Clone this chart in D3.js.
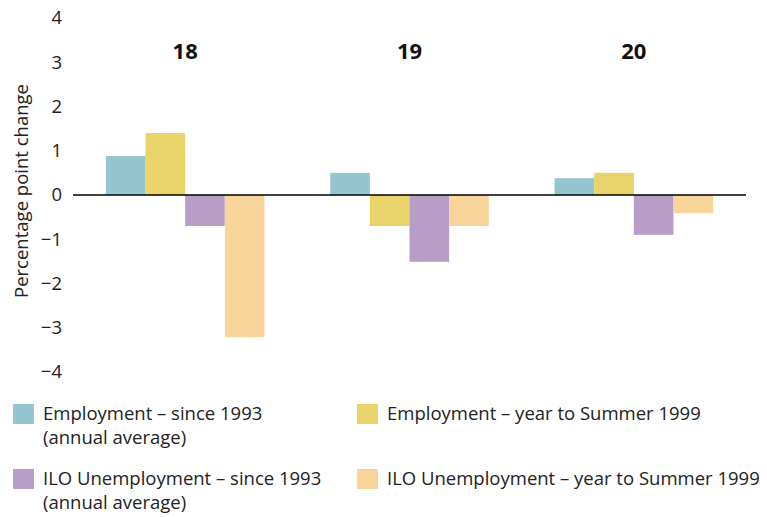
<!DOCTYPE html>
<html>
<head>
<meta charset="utf-8">
<script src="https://cdn.jsdelivr.net/npm/d3@7"></script>
<style>
  html, body { margin: 0; padding: 0; background: #fff; }
  svg { display: block; font-family: "Open Sans", "Noto Sans", sans-serif; }
</style>
</head>
<body>
<svg id="chart" width="767" height="517"></svg>
<script>
// Age groups along the x axis
const ages = ["18", "19", "20"];

// Series (percentage point change)
const seriesNames = [
  "Employment – since 1993 (annual average)",
  "Employment – year to Summer 1999",
  "ILO Unemployment – since 1993 (annual average)",
  "ILO Unemployment – year to Summer 1999"
];
const empSince1993   = [0.88, 0.50, 0.38];
const empYear1999    = [1.40, -0.70, 0.50];
const iloSince1993   = [-0.70, -1.51, -0.90];
const iloYear1999    = [-3.21, -0.70, -0.41];

const yTicks = [4, 3, 2, 1, 0, -1, -2, -3, -4];

const colors = ["#96c5d2", "#e8d46a", "#b89ec6", "#f8d59a"];
const seriesValues = [empSince1993, empYear1999, iloSince1993, iloYear1999];

const svg = d3.select("#chart");

const y = d3.scaleLinear().domain([-4, 4]).range([372, 18]);
const x0 = d3.scaleBand().domain(ages).range([73, 746]).padding(0);
const x1 = d3.scaleBand().domain(d3.range(seriesNames.length))
  .range([0, x0.bandwidth()]).paddingInner(0).paddingOuter(0.83);

// y tick labels
const yAxis = d3.axisLeft(y).tickValues(yTicks).tickSize(0).tickPadding(0)
  .tickFormat(d => d < 0 ? "\u2212" + Math.abs(d) : String(d));
const gy = svg.append("g").attr("transform", "translate(62,0)").call(yAxis);
gy.select(".domain").remove();
gy.selectAll("text").attr("font-size", 18.5).attr("fill", "#222")
  .attr("font-family", "\"Open Sans\", sans-serif");

// y axis title
svg.append("text")
  .attr("transform", "translate(28,191) rotate(-90)")
  .attr("text-anchor", "middle")
  .attr("font-size", 18.5)
  .attr("fill", "#222")
  .text("Percentage point change");

// bars
const groups = svg.append("g").selectAll("g").data(ages).join("g")
  .attr("transform", d => `translate(${x0(d)},0)`);

groups.selectAll("rect")
  .data((age, gi) => seriesValues.map((vals, si) => ({ si, v: vals[gi] })))
  .join("rect")
  .attr("x", d => x1(d.si))
  .attr("width", x1.bandwidth())
  .attr("y", d => y(Math.max(0, d.v)))
  .attr("height", d => Math.abs(y(d.v) - y(0)))
  .attr("fill", d => colors[d.si]);

// group labels
svg.append("g").selectAll("text").data(ages).join("text")
  .attr("x", d => x0(d) + x0.bandwidth() / 2)
  .attr("y", 59)
  .attr("text-anchor", "middle")
  .attr("font-size", 22)
  .attr("font-weight", "bold")
  .attr("fill", "#111")
  .text(d => d);

// zero line
svg.append("line")
  .attr("x1", 73).attr("x2", 746)
  .attr("y1", y(0)).attr("y2", y(0))
  .attr("stroke", "#000").attr("stroke-width", 1.6);

// legend
const legendLines = [
  ["Employment – since 1993", "(annual average)"],
  ["Employment – year to Summer 1999"],
  ["ILO Unemployment – since 1993", "(annual average)"],
  ["ILO Unemployment – year to Summer 1999"]
];
const legendPos = [[13, 404], [357, 404], [13, 469], [357, 469]];

const lg = svg.append("g").selectAll("g").data(legendLines).join("g")
  .attr("transform", (d, i) => `translate(${legendPos[i][0]},${legendPos[i][1]})`);
lg.append("rect").attr("width", 21).attr("height", 20)
  .attr("fill", (d, i) => colors[i]);
lg.each(function (lines) {
  const t = d3.select(this).append("text")
    .attr("x", 30).attr("y", 16)
    .attr("font-size", 18.5).attr("fill", "#222");
  lines.forEach((ln, k) => {
    t.append("tspan").attr("x", 30).attr("dy", k === 0 ? 0 : 24).text(ln);
  });
});
</script>
</body>
</html>
